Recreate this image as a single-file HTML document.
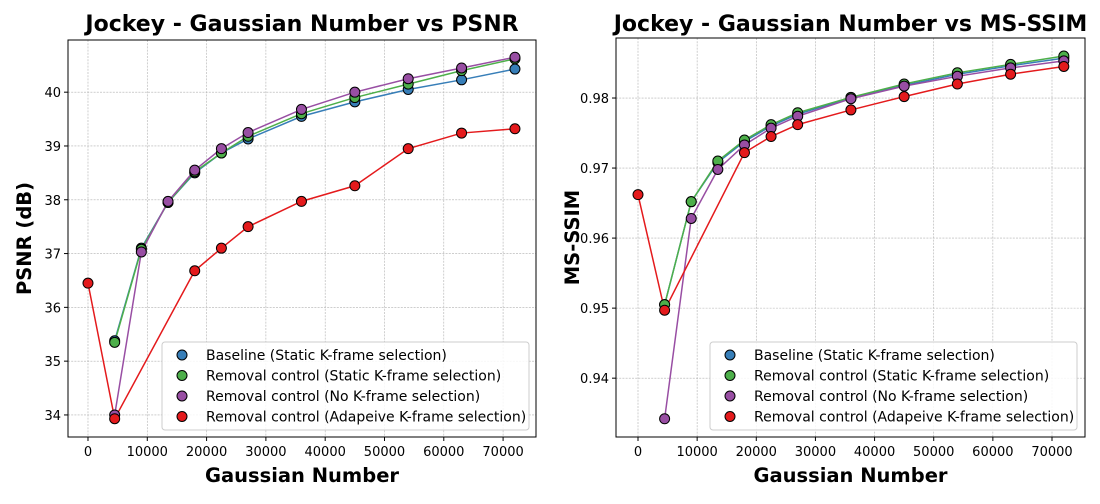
<!DOCTYPE html>
<html><head><meta charset="utf-8"><style>
body{margin:0;background:#fff;font-family:"DejaVu Sans","Liberation Sans",sans-serif}
svg text{font-family:"DejaVu Sans","Liberation Sans",sans-serif}
</style></head><body>
<svg id="chart" width="1100" height="500" xmlns="http://www.w3.org/2000/svg"></svg>
<script>
const xsAll = [0,4500,9000,13500,18000,22500,27000,36000,45000,54000,63000,72000];
const xsMain = [4500,9000,13500,18000,22500,27000,36000,45000,54000,63000,72000];
const xsRed = [0,4500,18000,22500,27000,36000,45000,54000,63000,72000];
const psnrBase = [35.38,37.1,37.95,38.5,38.87,39.13,39.55,39.82,40.05,40.23,40.43];
const psnrGreen = [35.35,37.08,37.95,38.52,38.87,39.18,39.6,39.9,40.15,40.4,40.62];
const psnrPurple = [34.0,37.03,37.97,38.55,38.95,39.25,39.68,40.0,40.25,40.45,40.65];
const psnrRed = [36.45,33.93,36.68,37.1,37.5,37.97,38.26,38.95,39.24,39.32];
const ssimBase = [0.9505,0.9652,0.9708,0.9738,0.976,0.9777,0.98,0.9818,0.9834,0.9846,0.9857];
const ssimGreen = [0.9505,0.9652,0.971,0.974,0.9762,0.9779,0.9801,0.982,0.9836,0.9848,0.986];
const ssimPurple = [0.9342,0.9628,0.9698,0.9733,0.9757,0.9774,0.9799,0.9817,0.9831,0.9843,0.9853];
const ssimRed = [0.9662,0.9497,0.9722,0.9745,0.9762,0.9783,0.9802,0.982,0.9834,0.9845];
const xTicks = [0,10000,20000,30000,40000,50000,60000,70000];
const psnrTicks = [34,35,36,37,38,39,40];
const ssimTicks = [0.94,0.95,0.96,0.97,0.98];
const legendLabels = ["Baseline (Static K-frame selection)","Removal control (Static K-frame selection)","Removal control (No K-frame selection)","Removal control (Adapeive K-frame selection)"];
const colors = ["#377eb8","#4daf4a","#984ea3","#e41a1c"];

const svg = document.getElementById('chart');
const NS = "http://www.w3.org/2000/svg";
function mk(tag, attrs, parent){const e=document.createElementNS(NS,tag);for(const k in attrs)e.setAttribute(k,attrs[k]);(parent||svg).appendChild(e);return e;}

function panel(o){
  const g = mk('g',{});
  
  
  const X = v => o.x0 + (v - o.xmin)/(o.xmax-o.xmin)*(o.x1-o.x0);
  const Y = v => o.y1 - (v - o.ymin)/(o.ymax-o.ymin)*(o.y1-o.y0);
  xTicks.forEach(t=>{const l=mk('line',{x1:X(t),x2:X(t),y1:o.y0,y2:o.y1,stroke:'#b0b0b0','stroke-width':0.6,'stroke-dasharray':'2,1.2'},g);
    });
  o.yTicks.forEach(t=>{const l=mk('line',{x1:o.x0,x2:o.x1,y1:Y(t),y2:Y(t),stroke:'#b0b0b0','stroke-width':0.6,'stroke-dasharray':'2,1.2'},g);
    });
  xTicks.forEach(t=>{mk('line',{x1:X(t),x2:X(t),y1:o.y1,y2:o.y1+4,stroke:'#000'},g);
    const tx=mk('text',{x:X(t),y:o.y1+19,'text-anchor':'middle','font-size':13},g);tx.textContent=t;
    });
  o.yTicks.forEach(t=>{mk('line',{x1:o.x0-4,x2:o.x0,y1:Y(t),y2:Y(t),stroke:'#000'},g);
    const tx=mk('text',{x:o.x0-7,y:Y(t)+5,'text-anchor':'end','font-size':13},g);tx.textContent=o.fmt(t);
    });
  o.series.forEach((s,i)=>{
    const pts = s.xs.map((x,j)=>X(x)+','+Y(s.ys[j])).join(' ');
    const pl=mk('polyline',{points:pts,fill:'none',stroke:colors[i],'stroke-width':1.5},g);
    
  });
  o.series.forEach((s,i)=>{
    s.xs.forEach((x,j)=>{const c=mk('circle',{cx:X(x),cy:Y(s.ys[j]),r:5,fill:colors[i],stroke:'#000','stroke-width':1},g);
      });
  });
  mk('rect',{x:o.x0,y:o.y0,width:o.x1-o.x0,height:o.y1-o.y0,fill:'none',stroke:'#000','stroke-width':1},g);
  const ti=mk('text',{x:(o.x0+o.x1)/2,y:31,'text-anchor':'middle','font-size':22,'font-weight':'bold'},g);ti.textContent=o.title;
  
  const xl=mk('text',{x:(o.x0+o.x1)/2,y:482,'text-anchor':'middle','font-size':19.5,'font-weight':'bold'},g);xl.textContent='Gaussian Number';
  
  const yx=o.x0-37, yy=(o.y0+o.y1)/2;
  const yl=mk('text',{x:yx,y:yy,'text-anchor':'middle','font-size':19.5,'font-weight':'bold',transform:`rotate(-90 ${yx} ${yy})`},g);yl.textContent=o.ylabel;
  
  const lg=mk('g',{},g);
  
  mk('rect',{x:o.lx,y:342,width:367,height:88,rx:3,fill:'#fff','fill-opacity':0.85,stroke:'#ccc'},lg);
  legendLabels.forEach((lab,i)=>{
    const ey=355+i*20.5;
    const e=mk('g',{},lg);
    mk('circle',{cx:o.lx+20,cy:ey,r:5,fill:colors[i],stroke:'#000'},e);
    const t=mk('text',{x:o.lx+44,y:ey+5,'font-size':14},e);t.textContent=lab;
  });
}
panel({name:'psnr-chart',x0:68,x1:536,y0:40,y1:437,xmin:-3370,xmax:75550,ymin:33.59,ymax:40.97,yTicks:psnrTicks,fmt:t=>t,
  title:'Jockey - Gaussian Number vs PSNR',ylabel:'PSNR (dB)',lx:162,
  series:[{xs:xsMain,ys:psnrBase},{xs:xsMain,ys:psnrGreen},{xs:xsMain,ys:psnrPurple},{xs:xsRed,ys:psnrRed}]});
panel({name:'ssim-chart',x0:616,x1:1085,y0:38,y1:437,xmin:-3720,xmax:75580,ymin:0.9316,ymax:0.98857,yTicks:ssimTicks,fmt:t=>t.toFixed(2),
  title:'Jockey - Gaussian Number vs MS-SSIM',ylabel:'MS-SSIM',lx:710,
  series:[{xs:xsMain,ys:ssimBase},{xs:xsMain,ys:ssimGreen},{xs:xsMain,ys:ssimPurple},{xs:xsRed,ys:ssimRed}]});
</script>
</body></html>
